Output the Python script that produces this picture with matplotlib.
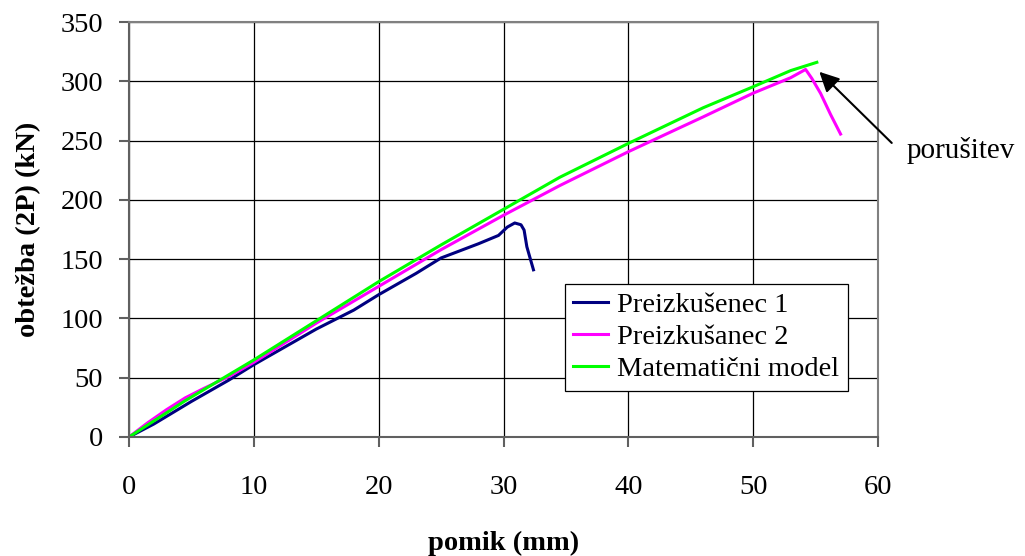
import matplotlib
matplotlib.use("Agg")
import matplotlib.pyplot as plt

x1 = [0, 2, 5, 8, 10, 12, 15, 18, 20, 23, 25, 28, 29.6, 30.3, 30.9, 31.4, 31.65, 31.87, 32.1, 32.4]
y1 = [0, 11, 30, 48, 61, 73, 91, 107, 120, 138, 151, 163, 170, 177, 180.5, 179, 174.5, 160.5, 152, 141]

x2 = [0, 1.5, 3, 4.5, 6, 8, 10, 15, 20, 25, 30, 34.5, 40, 43.75, 46, 50, 53, 54.2, 54.7, 55.4, 56.2, 57.0]
y2 = [0, 12, 23, 33, 41, 51, 63, 96, 127, 158, 187, 212, 240.6, 259, 270, 290, 303, 310, 302.4, 289.8, 272, 255.5]

x3 = [0, 4.5, 10, 15, 20, 25, 30, 34.5, 40, 46, 50, 53, 55.1]
y3 = [0, 30.6, 65, 98, 131, 162, 192, 219, 247.6, 277.7, 295.4, 309, 316]

labels = ["Preizkušenec 1", "Preizkušanec 2", "Matematični model"]

plt.rcParams['font.family'] = ['Liberation Serif', 'DejaVu Serif']

fig = plt.figure(figsize=(10.25, 5.56), dpi=100)
ax = fig.add_axes([129/1025, 1-437/556, (878-129)/1025, (437-22)/556])

ax.plot(x1, y1, color='#000080', lw=2.2, label=labels[0])
ax.plot(x2, y2, color='#ff00ff', lw=2.2, label=labels[1])
ax.plot(x3, y3, color='#00ff00', lw=2.2, label=labels[2])

ax.set_xlim(0, 60)
ax.set_ylim(0, 350)
ax.set_xticks(range(0, 61, 10))
ax.set_yticks(range(0, 351, 50))
ax.grid(True, color='black', lw=0.9)
ax.set_axisbelow(True)
for s in ['top', 'right']:
    ax.spines[s].set_color('#808080')
    ax.spines[s].set_linewidth(1.5)
for s in ['left', 'bottom']:
    ax.spines[s].set_color('#606060')
    ax.spines[s].set_linewidth(1.5)
ax.tick_params(axis='both', labelsize=20.5, direction='out', length=7.5, width=1.5, color='#606060')
ax.tick_params(axis='x', pad=20)
ax.tick_params(axis='y', pad=11)

ax.set_xlabel('pomik (mm)', fontsize=20.5, fontweight='bold', labelpad=22)
ax.set_ylabel('obtežba (2P) (kN)', fontsize=20.5, fontweight='bold', labelpad=14)

leg = ax.legend(loc='lower right', bbox_to_anchor=(0.96, 0.111), fontsize=20.5, frameon=True,
                fancybox=False, edgecolor='black', framealpha=1, handlelength=1.2,
                borderpad=0.3, labelspacing=0.22, handletextpad=0.35, borderaxespad=0)
leg.get_frame().set_linewidth(0.9)

ax.annotate('', xy=(55.3, 308), xytext=(61.1, 248), textcoords='data',
            annotation_clip=False,
            arrowprops=dict(arrowstyle='-|>', color='black', lw=1.5, mutation_scale=30,
                            shrinkA=0, shrinkB=0))
ax.text(62.3, 242, 'porušitev', fontsize=21, va='center', ha='left', clip_on=False)

fig.savefig('out.png', dpi=100)
